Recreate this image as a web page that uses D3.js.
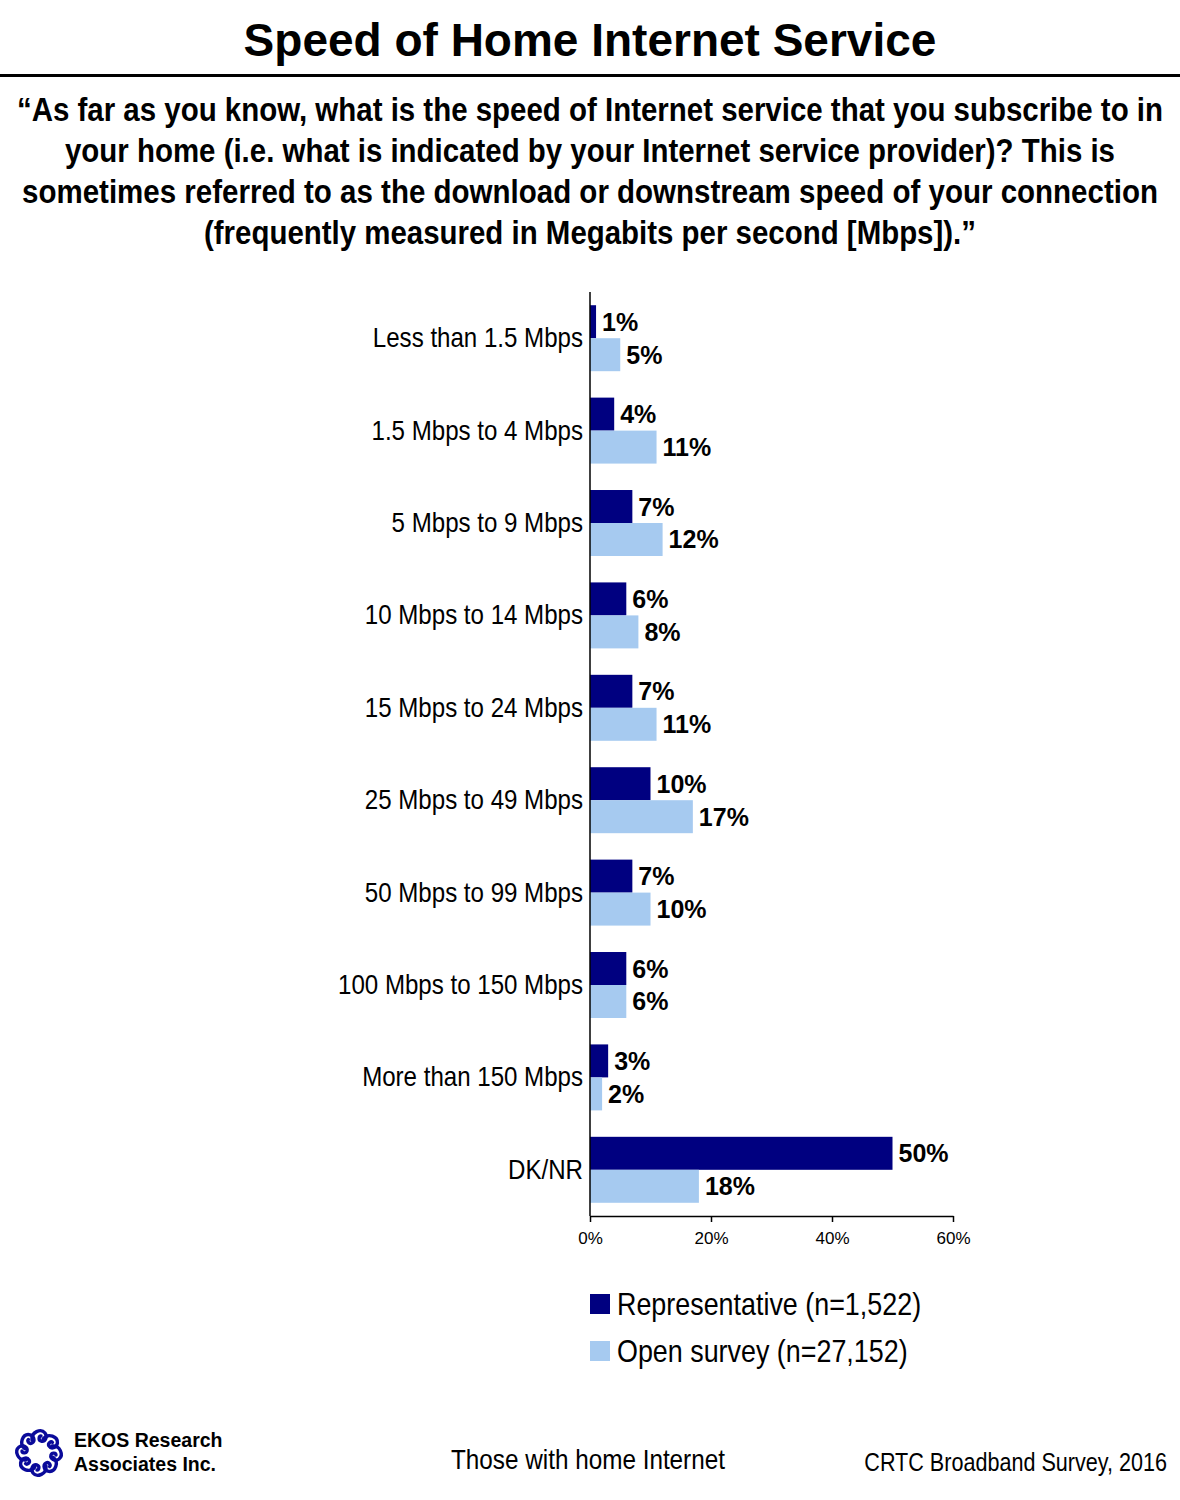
<!DOCTYPE html>
<html><head><meta charset="utf-8">
<script src="https://cdn.jsdelivr.net/npm/d3@7"></script>
<style>
body{margin:0;background:#fff;}
svg{display:block;}
</style></head>
<body><svg id="c" width="1180" height="1500"></svg>
<script>
const categories = ["Less than 1.5 Mbps","1.5 Mbps to 4 Mbps","5 Mbps to 9 Mbps","10 Mbps to 14 Mbps","15 Mbps to 24 Mbps","25 Mbps to 49 Mbps","50 Mbps to 99 Mbps","100 Mbps to 150 Mbps","More than 150 Mbps","DK/NR"];
const representative = [1,4,7,6,7,10,7,6,3,50];
const openSurvey = [5,11,12,8,11,17,10,6,2,18];
const seriesNames = ["Representative (n=1,522)","Open survey (n=27,152)"];
const xTicks = [0,20,40,60];
const titleText = "Speed of Home Internet Service";
const questionLines = ["\u201CAs far as you know, what is the speed of Internet service that you subscribe to in","your home (i.e. what is indicated by your Internet service provider)? This is","sometimes referred to as the download or downstream speed of your connection","(frequently measured in Megabits per second [Mbps]).\u201D"];
const questionWidths = [1146,1050,1136,772];
const colors = ["#000080","#a6caf0"];

const svg = d3.select("#c");
const ARIAL = '"Liberation Sans",Arial,sans-serif';

function narrow(sel, factor){
  sel.each(function(){
    const len = this.getComputedTextLength();
    d3.select(this).attr("textLength", len*factor).attr("lengthAdjust","spacingAndGlyphs");
  });
  return sel;
}

svg.append("text").attr("x",590).attr("y",56).attr("text-anchor","middle")
  .attr("font-family",ARIAL).attr("font-weight","bold").attr("font-size",46).text(titleText);
svg.append("rect").attr("x",0).attr("y",74).attr("width",1180).attr("height",3).attr("fill","#000");
questionLines.forEach((l,i)=>{
  svg.append("text").attr("x",590).attr("y",121+i*41).attr("text-anchor","middle")
    .attr("font-family",ARIAL).attr("font-weight","bold").attr("font-size",33)
    .attr("textLength",questionWidths[i]).attr("lengthAdjust","spacingAndGlyphs").text(l);
});

const x = d3.scaleLinear().domain([0,60]).range([590,953]);
const y = d3.scaleBand().domain(categories).range([292,1216]).paddingInner(0.286).paddingOuter(0.143);
const sub = d3.scaleBand().domain([0,1]).range([0,y.bandwidth()]);

const data = categories.map((c,i)=>({c,vals:[representative[i],openSurvey[i]]}));
const g = svg.append("g");
data.forEach(d=>{
  d.vals.forEach((v,k)=>{
    g.append("rect").attr("x",x(0)).attr("y",y(d.c)+sub(k)).attr("width",x(v)-x(0)).attr("height",sub.bandwidth()).attr("fill",colors[k]);
    g.append("text").attr("x",x(v)+6).attr("y",y(d.c)+sub(k)+sub.bandwidth()/2).attr("dy","0.36em")
      .attr("font-family",ARIAL).attr("font-weight","bold").attr("font-size",25).text(v+"%");
  });
  narrow(g.append("text").attr("x",583).attr("y",y(d.c)+y.bandwidth()/2 - 1).attr("dy","0.36em").attr("text-anchor","end")
    .attr("font-family",ARIAL).attr("font-size",28).text(d.c), 0.86);
});

// axes
const xa = svg.append("g").attr("transform","translate(0,1216)")
  .call(d3.axisBottom(x).tickValues(xTicks).tickFormat(d=>d+"%").tickSize(6).tickSizeOuter(0));
xa.select(".domain").attr("stroke","#000").attr("stroke-width",1.5);
xa.selectAll(".tick line").attr("stroke","#000").attr("stroke-width",1.5);
xa.selectAll("text").attr("font-family",ARIAL).attr("font-size",17).attr("fill","#000").attr("dy","1.1em");
svg.append("line").attr("x1",590).attr("x2",590).attr("y1",292).attr("y2",1216).attr("stroke","#000").attr("stroke-width",1.5);

// legend
seriesNames.forEach((n,k)=>{
  const ly = 1294 + k*47;
  svg.append("rect").attr("x",590).attr("y",ly).attr("width",20).attr("height",20).attr("fill",colors[k]);
  narrow(svg.append("text").attr("x",617).attr("y",ly+9).attr("dy","0.36em").attr("font-family",ARIAL).attr("font-size",32).text(n), 0.84);
});

// footer
narrow(svg.append("text").attr("x",588).attr("y",1459).attr("dy","0.36em").attr("text-anchor","middle").attr("font-family",ARIAL).attr("font-size",28).text("Those with home Internet"), 0.867);
narrow(svg.append("text").attr("x",1167).attr("y",1462).attr("dy","0.36em").attr("text-anchor","end").attr("font-family",ARIAL).attr("font-size",26).text("CRTC Broadband Survey, 2016"), 0.83);
svg.append("text").attr("x",74).attr("y",1447).attr("font-family",ARIAL).attr("font-weight","bold").attr("font-size",19.5).text("EKOS Research");
svg.append("text").attr("x",74).attr("y",1471).attr("font-family",ARIAL).attr("font-weight","bold").attr("font-size",19.5).text("Associates Inc.");
// logo
const logo = svg.append("g").attr("transform","translate(39,1453)");
for(let i=0;i<8;i++){
  const a = i*45;
  const p = logo.append("g").attr("transform",`rotate(${a}) translate(0,-15)`);
  p.append("path").attr("d","M-7,2 C-8,-6 2,-10 6,-5 C9,-1 6,4 2,3 C-1,2 0,-2 2,-2")
    .attr("fill","none").attr("stroke","#0a0a9a").attr("stroke-width",3.4).attr("stroke-linecap","round");
}
</script></body></html>
